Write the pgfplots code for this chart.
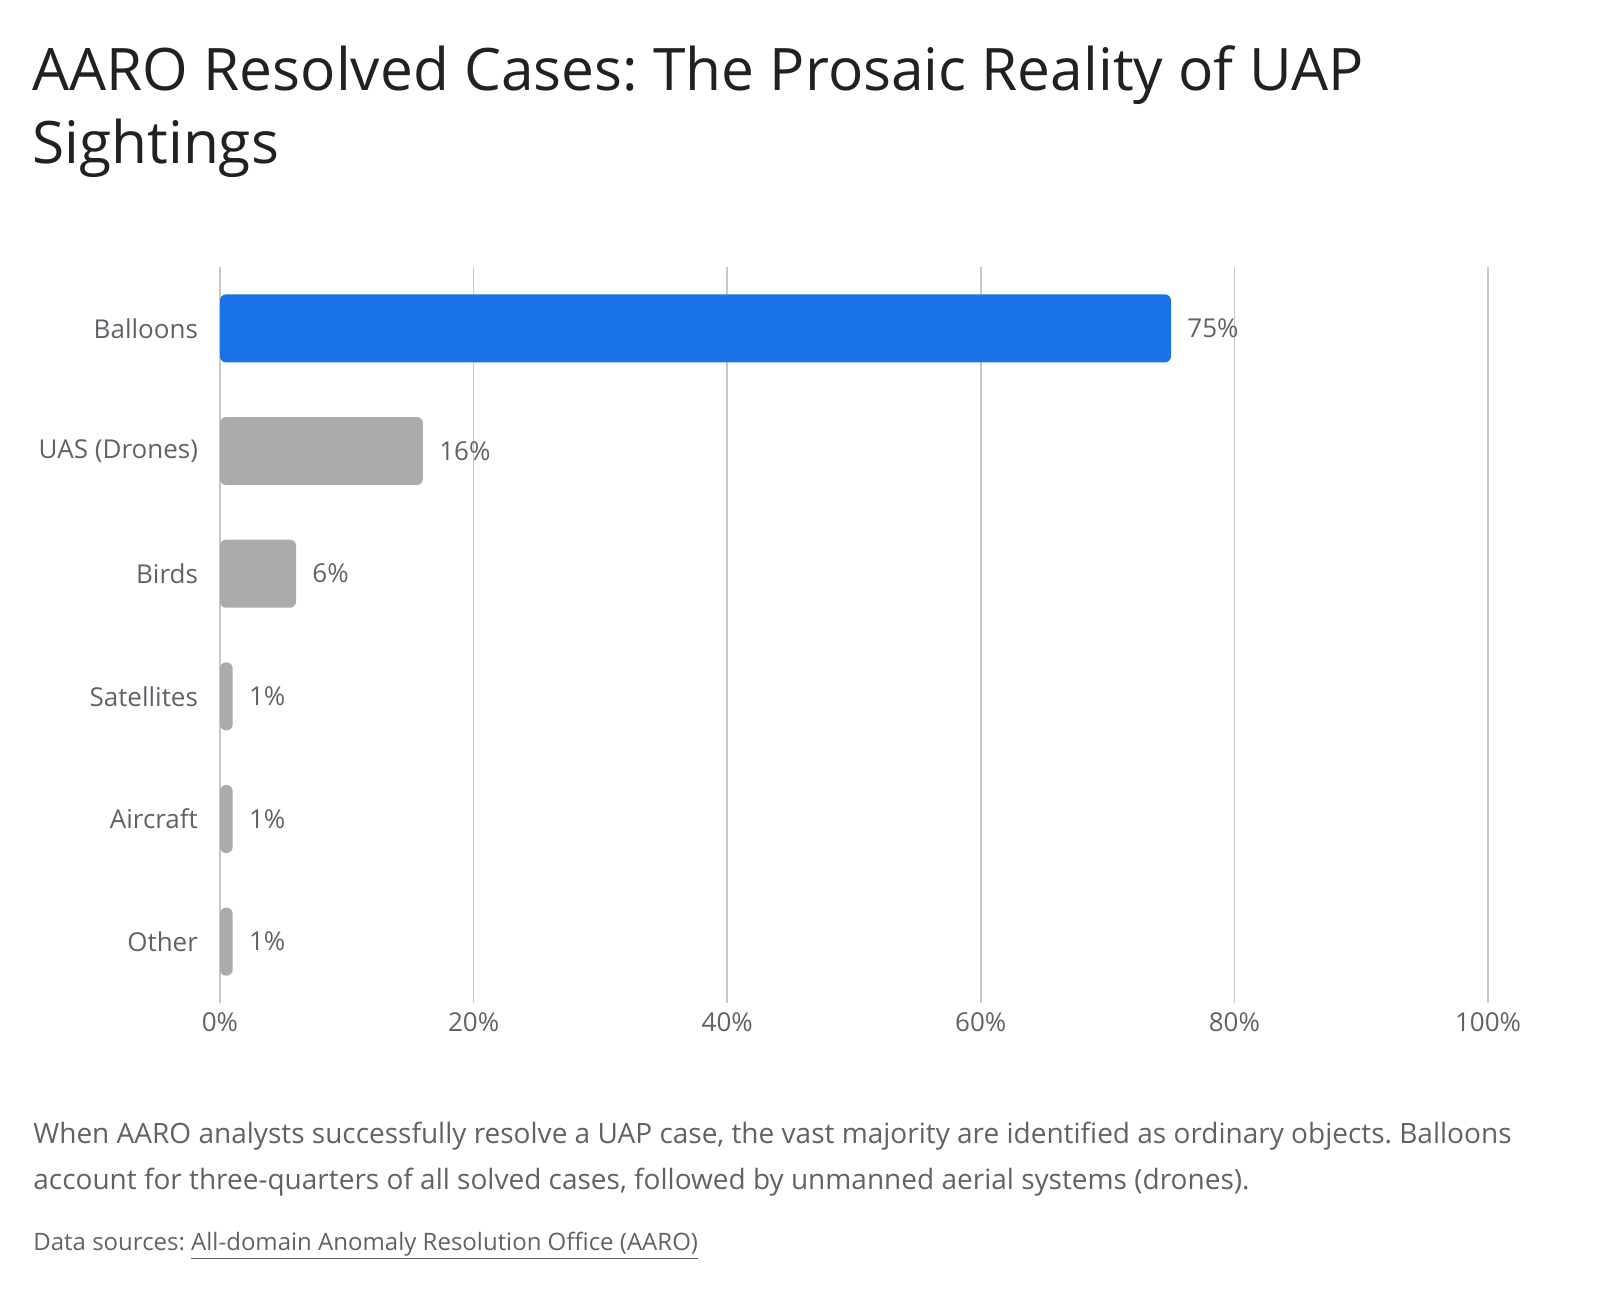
\documentclass[border=0pt]{standalone}
\usepackage{fontspec}
\setmainfont{Open Sans}
\usepackage{pgfplots}
\pgfplotsset{compat=1.18}
\definecolor{gblue}{HTML}{1A73E8}
\definecolor{bargray}{HTML}{ABABAB}
\definecolor{txtgray}{HTML}{5F6368}
\definecolor{titlec}{HTML}{202124}
\definecolor{gridc}{HTML}{C8C8C8}
\frenchspacing
\begin{document}
\begin{tikzpicture}
\path[use as bounding box] (0pt,0pt) rectangle (800pt,-645pt);
\node[anchor=base west, inner sep=0pt, font=\fontsize{29.3}{36}\selectfont, text=titlec] at (16pt,-45pt) {AARO Resolved Cases: The Prosaic Reality of UAP};
\node[anchor=base west, inner sep=0pt, font=\fontsize{29.3}{36}\selectfont, text=titlec] at (16pt,-81.5pt) {Sightings};
\begin{axis}[
  at={(110pt,-501.5pt)}, anchor=south west,
  scale only axis, width=634pt, height=368pt,
  xmin=0, xmax=100, ymin=-0.5, ymax=5.5, y dir=reverse,
  xtick={0,20,40,60,80,100},
  xticklabels={0\%,20\%,40\%,60\%,80\%,100\%},
  ytick={0,1,2,3,4,5},
  yticklabels={Balloons,UAS (Drones),Birds,Satellites,Aircraft,Other},
  /pgf/number format/assume math mode=true,
  axis line style={draw=none},
  major tick length=0pt,
  xmajorgrids, major grid style={gridc, line width=0.8pt},
  ticklabel style={font=\fontsize{13}{15}\selectfont, text=txtgray},
  yticklabel style={xshift=-7.5pt},
  xticklabel style={yshift=-1.5pt},
  xbar, bar width=34pt, bar shift=0pt,
  point meta=x,
  nodes near coords={\pgfmathprintnumber{\pgfplotspointmeta}\%},
  every node near coord/.append style={font=\fontsize{13}{15}\selectfont, text=txtgray, inner sep=0pt, xshift=8pt, anchor=west},
  clip=false,
]
\addplot[draw=none, fill=gblue, rounded corners=3pt] coordinates {(75,0)};
\addplot[draw=none, fill=bargray, rounded corners=3pt] coordinates {(16,1) (6,2) (1,3) (1,4) (1,5)};
\end{axis}
\node[anchor=base west, inner sep=0pt, font=\fontsize{14}{16}\selectfont, text=txtgray] at (16.5pt,-571.5pt) {When AARO analysts successfully resolve a UAP case, the vast majority are identified as ordinary objects. Balloons};
\node[anchor=base west, inner sep=0pt, font=\fontsize{14}{16}\selectfont, text=txtgray] at (16.5pt,-594.5pt) {account for three-quarters of all solved cases, followed by unmanned aerial systems (drones).};
\node[anchor=base west, inner sep=0pt, font=\fontsize{12}{14}\selectfont, text=txtgray] at (16.5pt,-625pt) {Data sources: \underline{All-domain Anomaly Resolution Office (AARO)}};
\end{tikzpicture}
\end{document}
